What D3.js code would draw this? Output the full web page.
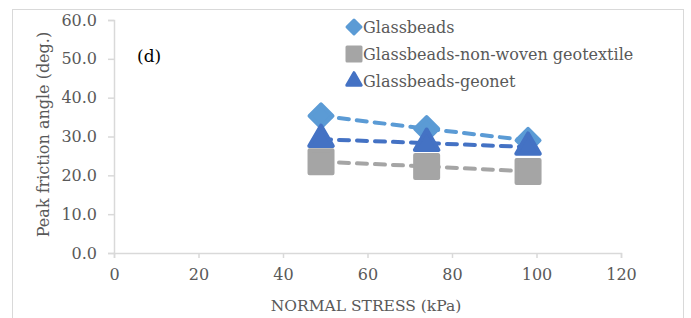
<!DOCTYPE html>
<html>
<head>
<meta charset="utf-8">
<script src="https://cdn.jsdelivr.net/npm/d3@7"></script>
<style>
  body { margin: 0; background: #fff; }
  svg text { font-family: "DejaVu Serif", serif; }
</style>
</head>
<body>
<div id="chart"></div>
<script>
var stress = [49, 74, 98];
var glassbeads = [35.3, 32.0, 29.0];
var geotextile = [23.5, 22.3, 21.0];
var geonet = [29.3, 28.3, 27.3];
var xTicks = [0, 20, 40, 60, 80, 100, 120];
var yTicks = [0, 10, 20, 30, 40, 50, 60];

var series = [
    { name: "Glassbeads", values: glassbeads, color: "#5b9bd5", shape: "diamond" },
    { name: "Glassbeads-non-woven geotextile", values: geotextile, color: "#a5a5a5", shape: "square" },
    { name: "Glassbeads-geonet", values: geonet, color: "#4472c4", shape: "triangle" }
];

var chartWidth = 691, chartHeight = 318;
var plotLeft = 114, plotRight = 621, plotTop = 20, plotBottom = 253;

var svg = d3.select("#chart").append("svg")
    .attr("width", chartWidth)
    .attr("height", chartHeight);

svg.append("rect")
    .attr("width", chartWidth).attr("height", chartHeight)
    .attr("fill", "#fff");

//outer frame
svg.append("rect")
    .attr("x", 12.5).attr("y", 9.5)
    .attr("width", 671).attr("height", 320)
    .attr("fill", "none")
    .attr("stroke", "#d9d9d9");

var x = d3.scaleLinear().domain([0, 120]).range([plotLeft, plotRight]);
var y = d3.scaleLinear().domain([0, 60]).range([plotBottom, plotTop]);

var axisColor = "#d9d9d9";
var textColor = "#595959";

var xAxis = svg.append("g")
    .attr("transform", "translate(0," + plotBottom + ")")
    .call(d3.axisBottom(x).tickValues(xTicks).tickSize(5).tickPadding(11).tickFormat(d3.format("d")));
var yAxis = svg.append("g")
    .attr("transform", "translate(" + plotLeft + ",0)")
    .call(d3.axisLeft(y).tickValues(yTicks).tickSize(6).tickPadding(11).tickFormat(d3.format(".1f")));

[xAxis, yAxis].forEach(function (g) {
    g.select(".domain").attr("stroke", axisColor).attr("stroke-width", 1.5);
    g.selectAll(".tick line").attr("stroke", axisColor).attr("stroke-width", 1.5);
    g.selectAll(".tick text")
        .attr("fill", textColor)
        .style("font-size", "16px")
        .style("font-family", "DejaVu Serif, serif");
});

//axis titles
svg.append("text")
    .attr("x", 366)
    .attr("y", 311)
    .attr("text-anchor", "middle")
    .attr("fill", textColor)
    .style("font-size", "15.5px")
    .text("NORMAL STRESS (kPa)");

svg.append("text")
    .attr("transform", "translate(49," + ((plotTop + plotBottom) / 2 - 2) + ") rotate(-90)")
    .attr("text-anchor", "middle")
    .attr("fill", textColor)
    .style("font-size", "16px")
    .text("Peak friction angle (deg.)");

svg.append("text")
    .attr("x", 137)
    .attr("y", 62)
    .attr("fill", "#000")
    .style("font-size", "17px")
    .text("(d)");

var symbolPath = function (shape, size) {
    var type = shape == "diamond" ? d3.symbolDiamond2 : shape == "square" ? d3.symbolSquare : d3.symbolTriangle;
    return d3.symbol().type(type).size(size)();
};

// marker areas: plot and legend
var markerSize = { diamond: 337, square: 529, triangle: 240 };
var legendSize = { diamond: 125, square: 196, triangle: 90 };

var line = d3.line()
    .x(function (d, i) { return x(stress[i]); })
    .y(function (d) { return y(d); });

series.forEach(function (s) {
    var g = svg.append("g");
    g.append("path")
        .attr("d", line(s.values))
        .attr("fill", "none")
        .attr("stroke", s.color)
        .attr("stroke-width", 4)
        .attr("stroke-linecap", "round")
        .attr("stroke-dasharray", "10,8");
    g.selectAll("path.marker")
        .data(s.values)
        .enter().append("path")
        .attr("class", "marker")
        .attr("transform", function (d, i) {
            return "translate(" + x(stress[i]) + "," + y(d) + ")";
        })
        .attr("d", symbolPath(s.shape, markerSize[s.shape]))
        .attr("fill", s.color)
        .attr("stroke", s.color)
        .attr("stroke-width", 4)
        .attr("stroke-linejoin", "round");
});

//legend
var legend = svg.append("g").attr("transform", "translate(354,27)");
series.forEach(function (s, i) {
    var row = legend.append("g").attr("transform", "translate(0," + (i * 27) + ")");
    row.append("path")
        .attr("d", symbolPath(s.shape, legendSize[s.shape]))
        .attr("fill", s.color)
        .attr("stroke", s.color)
        .attr("stroke-width", 3)
        .attr("stroke-linejoin", "round");
    row.append("text")
        .attr("x", 9)
        .attr("y", 6)
        .attr("fill", textColor)
        .style("font-size", "16px")
        .text(s.name);
});
</script>
</body>
</html>
